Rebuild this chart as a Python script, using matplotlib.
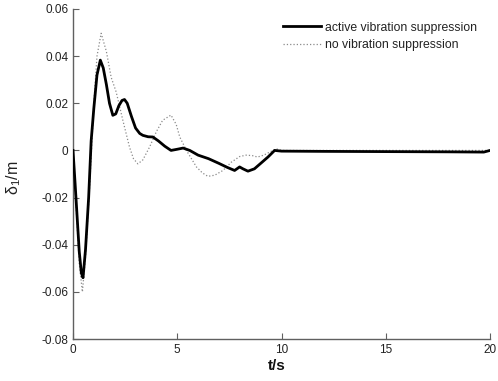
import matplotlib
matplotlib.use("Agg")
import matplotlib.pyplot as plt

plt.rcParams['font.family'] = ['Liberation Sans', 'DejaVu Sans']
plt.rcParams['mathtext.fontset'] = 'custom'
plt.rcParams['mathtext.rm'] = 'Liberation Sans'

# active vibration suppression
t_active = [0, 0.1, 0.2, 0.3, 0.4, 0.48, 0.6, 0.75, 0.87, 1.0, 1.15, 1.31, 1.45, 1.6, 1.75, 1.91,
            2.05, 2.2, 2.35, 2.47, 2.6, 2.8, 3.0, 3.2, 3.35, 3.6, 3.83, 4.1, 4.4, 4.7, 5.0, 5.28,
            5.6, 6.0, 6.5, 7.0, 7.4, 7.75, 7.99, 8.15, 8.39, 8.7, 9.0, 9.35, 9.67, 10.0,
            12.0, 15.0, 18.0, 19.7, 20.0]
d_active = [0, -0.014, -0.0285, -0.043, -0.052, -0.054, -0.042, -0.02, 0.004, 0.018, 0.032, 0.0383,
            0.035, 0.028, 0.02, 0.0149, 0.0155, 0.019, 0.0212, 0.0216, 0.02, 0.0145, 0.0095, 0.0072,
            0.0064, 0.0058, 0.0057, 0.004, 0.0018, 0.0, 0.0005, 0.001, 0.0, -0.002, -0.0035,
            -0.0055, -0.0072, -0.0085, -0.007, -0.0078, -0.0088, -0.0078, -0.0055, -0.0028, 0.0,
            -0.0003, -0.0004, -0.0005, -0.0006, -0.0007, 0.0]

# no vibration suppression
t_none = [0, 0.1, 0.2, 0.3, 0.45, 0.6, 0.8, 1.0, 1.15, 1.35, 1.6, 1.83, 2.07, 2.39, 2.71, 2.9,
          3.11, 3.35, 3.67, 4.0, 4.3, 4.7, 4.95, 5.12, 5.44, 5.92, 6.2, 6.47, 6.8, 7.19, 7.59,
          7.99, 8.3, 8.6, 8.85, 9.15, 9.43, 9.74, 10.0, 20.0]
d_none = [0, -0.016, -0.032, -0.048, -0.060, -0.045, -0.015, 0.02, 0.04, 0.0497, 0.042, 0.031,
          0.0248, 0.0128, 0.0014, -0.0035, -0.0057, -0.004, 0.0014, 0.008, 0.0128, 0.015, 0.011,
          0.0057, 0.0, -0.007, -0.0095, -0.011, -0.0105, -0.0085, -0.005, -0.0026, -0.002,
          -0.0022, -0.0028, -0.002, -0.0007, 0.0007, 0.0, 0.0]

x_ticks = [0, 5, 10, 15, 20]
y_ticks = [-0.08, -0.06, -0.04, -0.02, 0, 0.02, 0.04, 0.06]
y_ticklabels = ['-0.08', '-0.06', '-0.04', '-0.02', '0', '0.02', '0.04', '0.06']

fig = plt.figure(figsize=(4.98, 3.81), dpi=100)
ax = fig.add_axes([0.1466, 0.1102, 0.8374, 0.8662])

ax.plot(t_none, d_none, color='#8a8a8a', linestyle=':', linewidth=0.9,
        label='no vibration suppression', zorder=2)
ax.plot(t_active, d_active, color='black', linestyle='-', linewidth=2.0,
        label='active vibration suppression', zorder=3)

ax.set_xlim(0, 20)
ax.set_ylim(-0.08, 0.06)
ax.set_xticks(x_ticks)
ax.set_xticklabels([str(v) for v in x_ticks])
ax.set_yticks(y_ticks)
ax.set_yticklabels(y_ticklabels)

for s in ['top', 'right']:
    ax.spines[s].set_visible(False)
for s in ['left', 'bottom']:
    ax.spines[s].set_color('#606060')
    ax.spines[s].set_linewidth(1.0)
ax.tick_params(direction='in', length=4, color='#606060', labelsize=8.5, labelcolor='#222222')

ax.set_xlabel('t/s', fontsize=11, fontweight='bold', color='#111111')
ax.set_ylabel(r'δ$_{\mathrm{1}}$/m', fontsize=11.5, color='#222222')
ax.xaxis.set_label_coords(0.489, -0.06)
ax.yaxis.set_label_coords(-0.12, 0.49)

handles, labels = ax.get_legend_handles_labels()
ax.legend(handles[::-1], labels[::-1], loc='upper right', frameon=False, fontsize=8.8,
          handlelength=3.1, handletextpad=0.35, labelspacing=0.42,
          bbox_to_anchor=(0.984, 0.98), borderaxespad=0.1, labelcolor='#222222')

fig.savefig('out.png', dpi=100)
